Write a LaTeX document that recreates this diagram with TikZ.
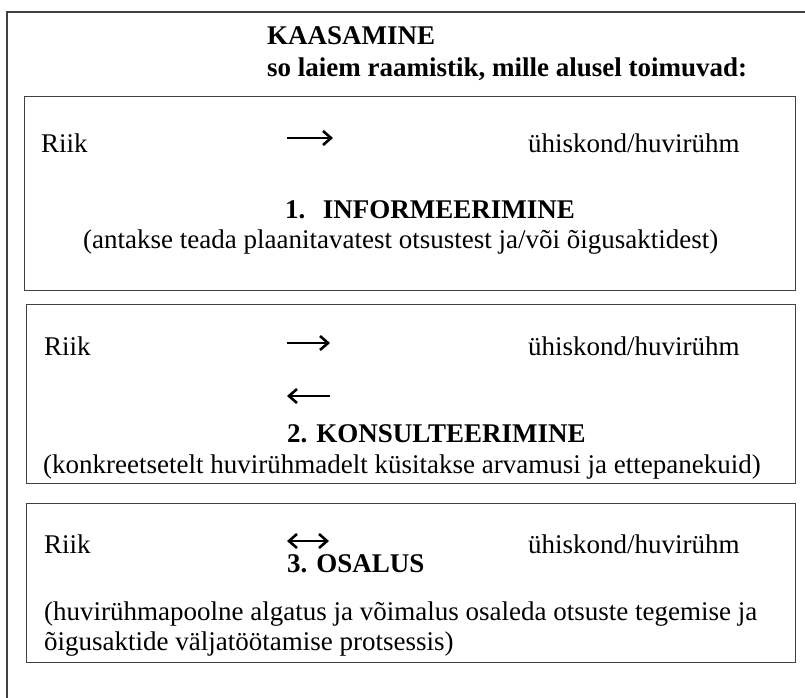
\documentclass[tikz,border=0pt]{standalone}
\usepackage{fontspec}
\setmainfont{Liberation Serif}
\usetikzlibrary{arrows.meta, positioning}

\begin{document}
\begin{tikzpicture}[
  x=1pt, y=-1pt,
  >={Straight Barb[length=8pt, width=14pt]},
  stagebox/.style={
    rectangle, draw=black!75, line width=1.4pt,
    anchor=north west, inner sep=0pt
  },
  titlelabel/.style={
    font=\fontsize{27}{31}\selectfont\bfseries, anchor=base west, inner sep=0pt
  },
  rowlabel/.style={
    font=\fontsize{27}{31}\selectfont, anchor=base west, inner sep=0pt
  },
  notelabel/.style={
    font=\fontsize{27}{31}\selectfont, anchor=base west, inner sep=0pt
  },
  flowedge/.style={draw, line width=2.6pt, black},
]
\useasboundingbox (0,0) rectangle (805,698);

% ============================================================
% OUTER FRAME (only left and top edge visible)
% ============================================================
\draw[black!75, line width=1.4pt] (7,698) -- (7,12) -- (805,12);

\node[titlelabel] (title) at (267,45) {KAASAMINE};
\node[titlelabel] (subtitle) at (267,77) {so laiem raamistik, mille alusel toimuvad:};

% ============================================================
% STAGE 1: INFORMEERIMINE
% ============================================================
\node[stagebox, minimum width=771, minimum height=194] (box1) at (24,96) {};
\node[rowlabel] (riik1) at (41,152) {Riik};
\node[rowlabel] (group1) at (528,152) {ühiskond/huvirühm};
\coordinate (a1s) at (287,138);
\coordinate (a1e) at (333,138);
\draw[flowedge, ->] (a1s) -- (a1e);
\node[titlelabel] (stage1) at (285,218) {1.\hspace{0.65em}INFORMEERIMINE};
\node[notelabel] (note1) at (83,248)
  {(antakse teada plaanitavatest otsustest ja/või õigusaktidest)};

% ============================================================
% STAGE 2: KONSULTEERIMINE
% ============================================================
\node[stagebox, minimum width=769, minimum height=179] (box2) at (26,304) {};
\node[rowlabel] (riik2) at (44,355) {Riik};
\node[rowlabel] (group2) at (528,355) {ühiskond/huvirühm};
\coordinate (a2s) at (287,343);
\coordinate (a2e) at (330,343);
\draw[flowedge, ->] (a2s) -- (a2e);
\coordinate (b2s) at (330,396);
\coordinate (b2e) at (287,396);
\draw[flowedge, ->] (b2s) -- (b2e);
\node[titlelabel] (stage2) at (287,442) {2. KONSULTEERIMINE};
\node[notelabel] (note2) at (43,473)
  {(konkreetsetelt huvirühmadelt küsitakse arvamusi ja ettepanekuid)};

% ============================================================
% STAGE 3: OSALUS
% ============================================================
\node[stagebox, minimum width=769, minimum height=159] (box3) at (26,503) {};
\node[rowlabel] (riik3) at (44,553) {Riik};
\node[rowlabel] (group3) at (528,553) {ühiskond/huvirühm};
\coordinate (c3s) at (287,541);
\coordinate (c3e) at (329,541);
\draw[flowedge, <->] (c3s) -- (c3e);
\node[titlelabel] (stage3) at (287,572) {3. OSALUS};
\node[notelabel] (note3a) at (44,620)
  {(huvirühmapoolne algatus ja võimalus osaleda otsuste tegemise ja};
\node[notelabel] (note3b) at (44,650)
  {õigusaktide väljatöötamise protsessis)};

\end{tikzpicture}
\end{document}
